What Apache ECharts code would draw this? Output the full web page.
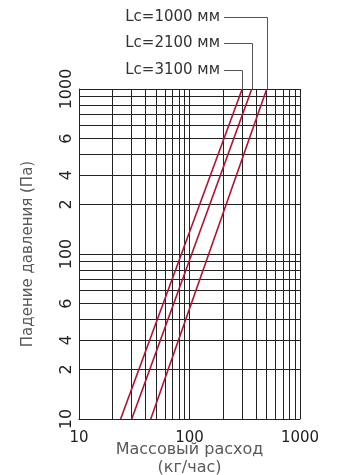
<!DOCTYPE html>
<html>
<head>
<meta charset="utf-8">
<script src="https://cdn.jsdelivr.net/npm/echarts@6/dist/echarts.min.js"></script>
<style>
  html, body { margin: 0; padding: 0; background: #fff; }
  #chart { width: 338px; height: 475px; }
</style>
</head>
<body>
<div id="chart"></div>
<script>
// gridlines of the log-log paper
const xGridValues = [10, 20, 30, 40, 50, 60, 70, 80, 90, 100, 200, 300, 400, 500, 600, 700, 800, 900, 1000];
const yGridValues = [10, 20, 30, 40, 50, 60, 70, 80, 90, 100, 200, 300, 400, 500, 600, 700, 800, 900, 1000];
const xTickValues = [10, 100, 1000];
const xTickLabels = ["10", "100", "1000"];
const yTickValues = [10, 20, 30, 50, 100, 200, 300, 500, 1000];
const yTickLabels = ["10", "2", "4", "6", "100", "2", "4", "6", "1000"];

// flow (kg/h) vs pressure drop (Pa)
const seriesNames = ["Lc=1000 мм", "Lc=2100 мм", "Lc=3100 мм"];
const lc1000 = [[44.6, 10], [500, 1000]];
const lc2100 = [[30, 10], [366, 1000]];
const lc3100 = [[23.8, 10], [300, 1000]];

const lineColor = "#b3122f";
const gridColor = "#222";
const font = "DejaVu Sans";

function pick(values, labels, v) {
  let best = 0;
  for (let i = 0; i < values.length; i++) {
    if (Math.abs(Math.log(values[i] / v)) < Math.abs(Math.log(values[best] / v))) best = i;
  }
  return labels[best];
}

const chart = echarts.init(document.getElementById("chart"), null, { renderer: "canvas" });

const option = {
  animation: false,
  grid: { left: 79, right: 38, top: 89, bottom: 56, containLabel: false, outerBoundsMode: "none" },
  xAxis: {
    type: "log",
    logBase: 10,
    min: 10,
    max: 1000,
    name: "Массовый расход\n(кг/час)",
    nameLocation: "middle",
    nameGap: 22,
    nameMoveOverlap: false,
    nameTextStyle: { fontFamily: font, fontSize: 16, color: "#5a5a5a", lineHeight: 18 },
    axisLine: { show: true, lineStyle: { color: gridColor, width: 1 } },
    axisTick: { show: false, customValues: xGridValues },
    axisLabel: {
      customValues: xTickValues,
      formatter: (v) => pick(xTickValues, xTickLabels, v),
      fontFamily: font,
      fontSize: 15,
      color: "#222",
      margin: 12
    },
    splitLine: { show: true, lineStyle: { color: gridColor, width: 1 } }
  },
  yAxis: {
    type: "log",
    logBase: 10,
    min: 10,
    max: 1000,
    name: "Падение давления (Па)",
    nameLocation: "middle",
    nameRotate: 90,
    nameGap: 43,
    nameMoveOverlap: false,
    nameTextStyle: { fontFamily: font, fontSize: 15, color: "#5a5a5a" },
    axisLine: { show: true, lineStyle: { color: gridColor, width: 1 } },
    axisTick: { show: false, customValues: yGridValues },
    axisLabel: {
      customValues: yTickValues,
      formatter: (v) => pick(yTickValues, yTickLabels, v),
      rotate: 90,
      fontFamily: font,
      fontSize: 16,
      color: "#222",
      margin: 4
    },
    splitLine: { show: true, lineStyle: { color: gridColor, width: 1 } }
  },
  series: [lc1000, lc2100, lc3100].map((d, i) => ({
    name: seriesNames[i],
    type: "line",
    data: d,
    symbol: "none",
    lineStyle: { color: lineColor, width: 1.6 },
    z: 5
  }))
};

chart.setOption(option);

// leader lines from the labels down to the top end of each curve
const labelY = [17, 43, 70];
const textRight = 220;
const graphics = [];
[lc1000, lc2100, lc3100].forEach((d, i) => {
  const end = d[d.length - 1];
  const p = chart.convertToPixel({ gridIndex: 0 }, end);
  graphics.push({
    type: "text",
    style: {
      text: seriesNames[i],
      x: textRight,
      y: labelY[i],
      align: "right",
      verticalAlign: "middle",
      font: "15px " + font,
      fill: "#333"
    }
  });
  graphics.push({
    type: "polyline",
    shape: { points: [[textRight + 4, labelY[i] + 0.5], [Math.round(p[0]) + 0.5, labelY[i] + 0.5], [Math.round(p[0]) + 0.5, p[1]]] },
    style: { stroke: "#555", lineWidth: 1, fill: null },
    z: 10
  });
});
chart.setOption({ graphic: graphics });
</script>
</body>
</html>
